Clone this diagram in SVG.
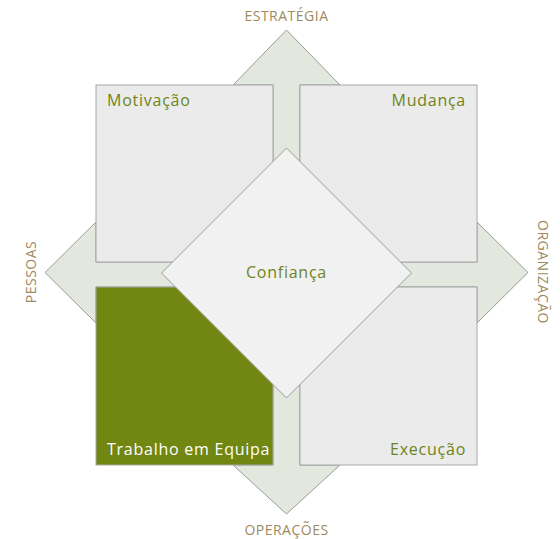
<svg xmlns="http://www.w3.org/2000/svg" width="560" height="539" viewBox="0 0 560 539">
<style>
.arrow{fill:#e3e8de;stroke:#9a9a9a;stroke-width:1}
.box{fill:#ebebeb;stroke:#a8a8a8;stroke-width:1}
.green{fill:#728612;stroke:#a8a8a8;stroke-width:1}
.dia{fill:#f1f1f1;stroke:#9a9a9a;stroke-width:1}
.axis{font-family:"Open Sans","Liberation Sans",sans-serif;font-size:14px;letter-spacing:0.5px;fill:#9e8a5e}
.lbl{font-family:"Open Sans","Liberation Sans",sans-serif;font-size:16px;letter-spacing:0.75px;fill:#6e8419}
.wlbl{font-family:"Open Sans","Liberation Sans",sans-serif;font-size:16px;letter-spacing:0.75px;fill:#ffffff}
</style>
<rect width="560" height="539" fill="#ffffff"/>
<g id="connectors">
<polygon class="arrow" points="286.5,30 340,85 300,85 300,262 477,262 477,222 528,272.5 477,323 477,287 300,287 300,465 340,465 286.5,514 233,465 273,465 273,287 96,287 96,323 45,272.5 96,222 96,262 273,262 273,85 233,85"/>
</g>
<g id="motivacao">
<rect class="box" x="96" y="85" width="177" height="177"/>
<text class="lbl" x="107" y="106">Motivação</text>
</g>
<g id="mudanca">
<rect class="box" x="300" y="85" width="177" height="177"/>
<text class="lbl" x="466" y="106" text-anchor="end">Mudança</text>
</g>
<g id="trabalho">
<rect class="green" x="96" y="287" width="177" height="178"/>
<text class="wlbl" x="107" y="455">Trabalho em Equipa</text>
</g>
<g id="execucao">
<rect class="box" x="300" y="287" width="177" height="178"/>
<text class="lbl" x="466" y="455" text-anchor="end">Execução</text>
</g>
<g id="confianca">
<polygon class="dia" points="286.5,148 411.5,273 286.5,398 161.5,273"/>
<text class="lbl" x="286.5" y="278" text-anchor="middle">Confiança</text>
</g>
<g id="labels">
<text class="axis" x="286.5" y="21" text-anchor="middle">ESTRATÉGIA</text>
<text class="axis" x="286.5" y="535" text-anchor="middle">OPERAÇÕES</text>
<text class="axis" transform="translate(36,272) rotate(-90)" text-anchor="middle">PESSOAS</text>
<text class="axis" transform="translate(538,272) rotate(90)" text-anchor="middle">ORGANIZAÇÃO</text>
</g>
</svg>
